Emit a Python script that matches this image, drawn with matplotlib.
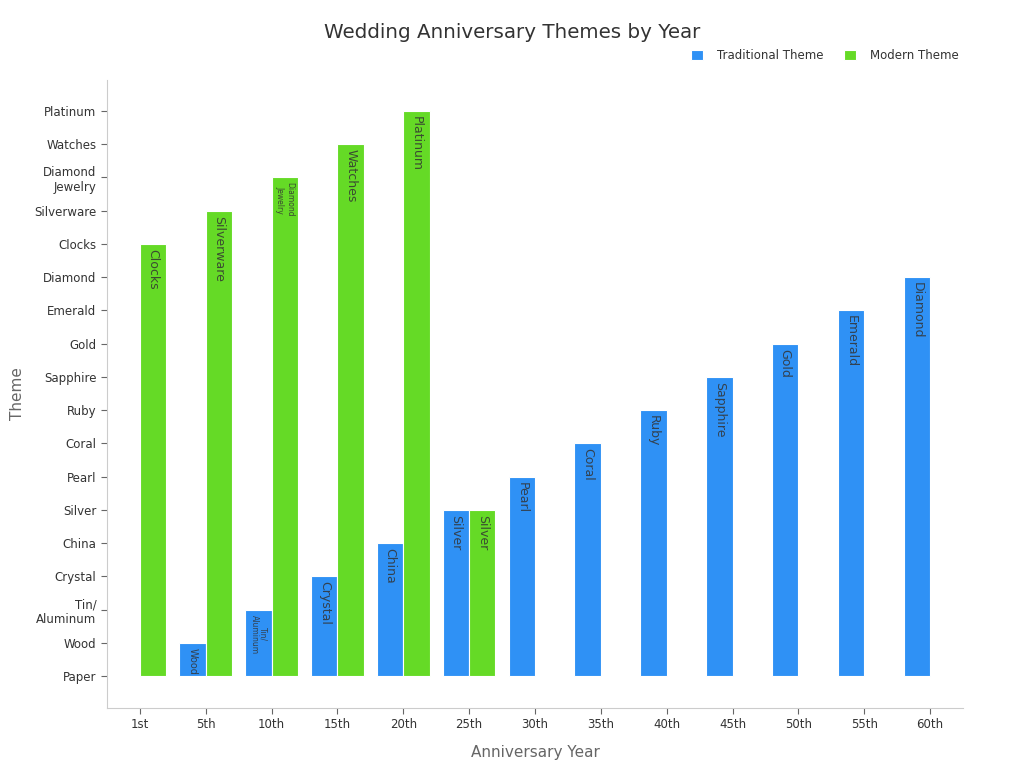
import matplotlib
matplotlib.use("Agg")
import matplotlib.pyplot as plt
import numpy as np

# Datos
years = ['1st', '5th', '10th', '15th', '20th', '25th', '30th', '35th', '40th',
         '45th', '50th', '55th', '60th']
themes = ['Paper', 'Wood', 'Tin/\nAluminum', 'Crystal', 'China', 'Silver', 'Pearl',
          'Coral', 'Ruby', 'Sapphire', 'Gold', 'Emerald', 'Diamond', 'Clocks',
          'Silverware', 'Diamond\nJewelry', 'Watches', 'Platinum']
traditional = ['Paper', 'Wood', 'Tin/\nAluminum', 'Crystal', 'China', 'Silver', 'Pearl',
               'Coral', 'Ruby', 'Sapphire', 'Gold', 'Emerald', 'Diamond']
modern = ['Clocks', 'Silverware', 'Diamond\nJewelry', 'Watches', 'Platinum', 'Silver',
          None, None, None, None, None, None, None]

blue = '#2F91F5'
green = '#65DA26'

fig, ax = plt.subplots(figsize=(10.24, 7.68), dpi=100)
plt.subplots_adjust(left=0.1045, right=0.9404, top=0.8958, bottom=0.0781)

x = np.arange(len(years))
ancho = 0.4
trad_vals = [themes.index(t) for t in traditional]
mod_vals = [themes.index(m) if m is not None else np.nan for m in modern]

ax.bar(x - ancho / 2, trad_vals, ancho, color=blue, edgecolor='white', linewidth=0.8,
       label='Traditional Theme')
ax.bar(x + ancho / 2, mod_vals, ancho, color=green, edgecolor='white', linewidth=0.8,
       label='Modern Theme')


def etiqueta(xpos, val, texto):
    if texto is None or val == 0:
        return
    if '\n' in texto:
        fs = 5.5
    elif texto == 'Wood':
        fs = 7
    else:
        fs = 9
    ax.text(xpos, val - 0.15, texto, rotation=-90, ha='center', va='top',
            fontsize=fs, color='#333333', alpha=0.85, linespacing=1.0)


for i in range(len(years)):
    etiqueta(x[i] - ancho / 2, trad_vals[i], traditional[i])
    if modern[i] is not None:
        etiqueta(x[i] + ancho / 2, mod_vals[i], modern[i])

ax.set_xlim(-0.5, len(years) - 0.5)
ax.set_ylim(-0.96, 17.93)
ax.set_xticks(x)
ax.set_xticklabels(years, fontsize=8.5)
ax.set_yticks(np.arange(len(themes)))
ax.set_yticklabels(themes, fontsize=8.5)
ax.tick_params(colors='#666666', length=4, width=0.8, labelcolor='#333333')

for s in ['top', 'right']:
    ax.spines[s].set_visible(False)
for s in ['left', 'bottom']:
    ax.spines[s].set_color('#cccccc')

ax.set_xlabel('Anniversary Year', fontsize=11, color='#666666', labelpad=10)
ax.set_ylabel('Theme', fontsize=11, color='#666666', labelpad=7)
fig.suptitle('Wedding Anniversary Themes by Year', fontsize=14.3, color='#333333',
             x=0.5, y=0.97)

leg = ax.legend(loc='lower right', bbox_to_anchor=(1.008, 1.012), ncol=2, frameon=False,
                fontsize=8.5, handlelength=1.0, handleheight=1.0, columnspacing=1.8,
                handletextpad=1.2)
for t in leg.get_texts():
    t.set_color('#333333')

plt.savefig('out.png', dpi=100)
